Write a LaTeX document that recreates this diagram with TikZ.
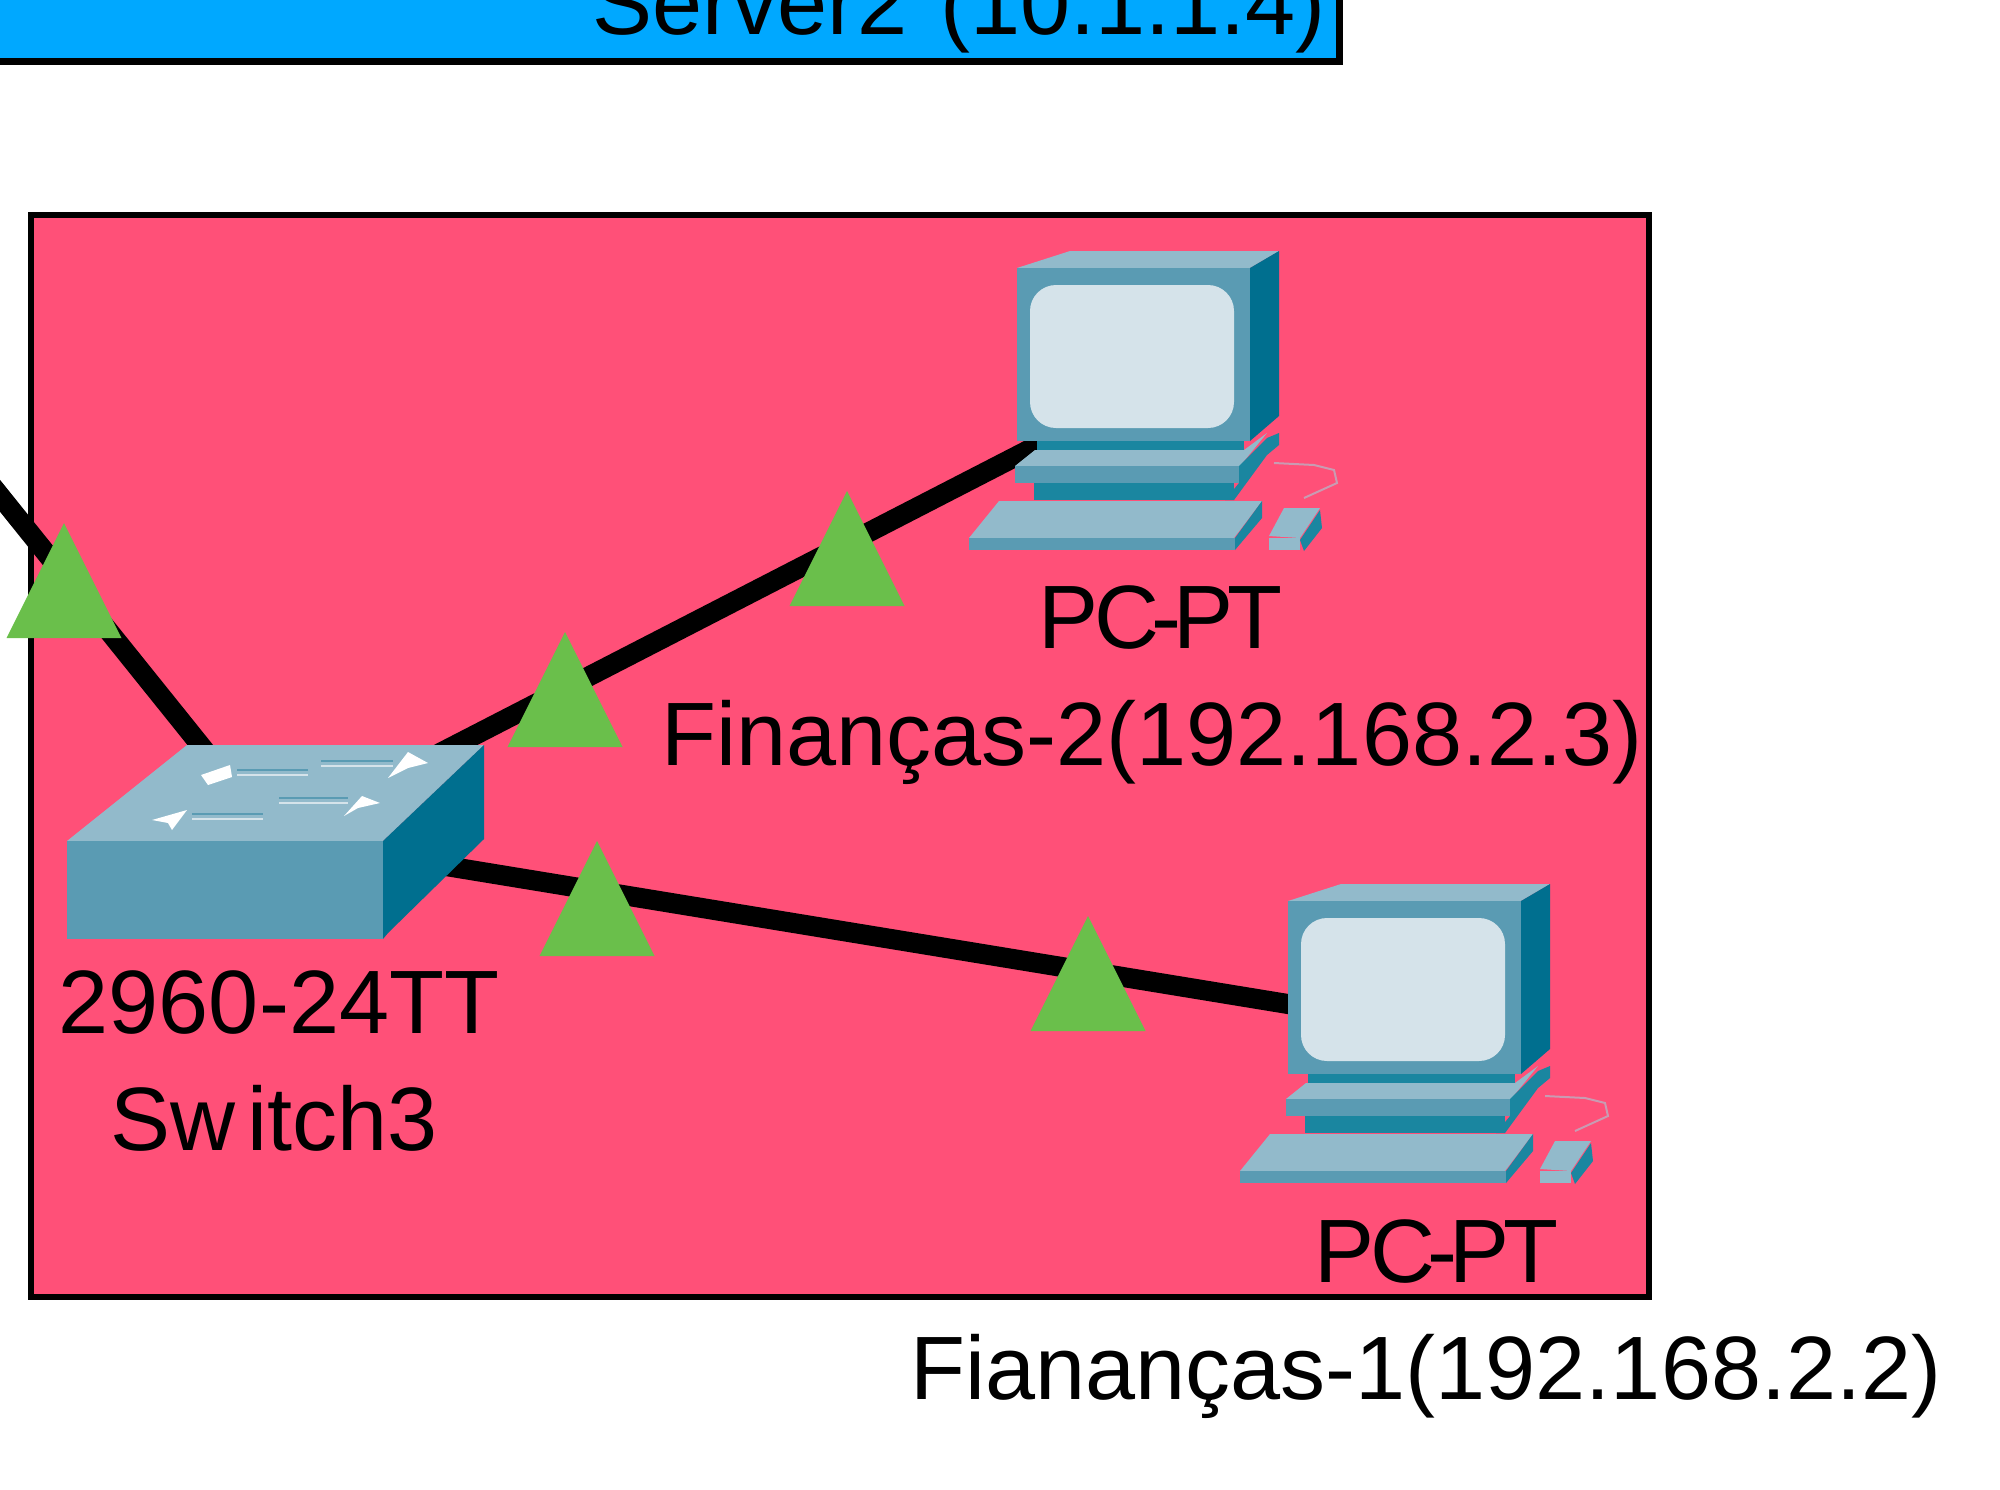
\documentclass[tikz,border=0pt]{standalone}
\usepackage{fontspec}
\setmainfont{Liberation Sans}
\usepackage{tikz}

\definecolor{zonepink}{HTML}{FF5078}
\definecolor{zoneblue}{HTML}{00A8FF}
\definecolor{linkgreen}{HTML}{6ABF4B}
\definecolor{icontop}{HTML}{92BACB}
\definecolor{iconfront}{HTML}{5A9BB3}
\definecolor{iconside}{HTML}{006F8F}
\definecolor{iconmid}{HTML}{1A86A0}
\definecolor{iconscreen}{HTML}{D5E3EA}
\definecolor{iconcable}{HTML}{C99BB2}

\newcommand{\pcpt}{P\kern-2pt C\kern-4pt-\kern-4pt P\kern-3pt T}

\tikzset{
	linkup/.pic={\fill[linkgreen] (0,0) -- (-57.5,115) -- (57.5,115) -- cycle;},
	pcicon/.pic={
		\fill[icontop] (0,0) -- (53,-17) -- (262,-17) -- (233,0) -- cycle;
		\fill[iconfront] (0,0) rectangle (233,173);
		\fill[iconside] (233,0) -- (262,-17) -- (262,148) -- (233,173) -- cycle;
		\fill[iconscreen, rounded corners=13] (13,17) rectangle (217,160);
		\fill[iconmid] (17,215) rectangle (217,232);
		\fill[iconmid] (20,173) rectangle (227,184);
		\fill[icontop] (-2,198) -- (18,182) -- (227,182) -- (250,165) -- (223,198) -- cycle;
		\fill[iconfront] (-2,198) rectangle (222,215);
		\fill[iconmid] (222,198) -- (250,170) -- (262,165) -- (262,177) -- (250,187) -- (217,232) -- (208,232) -- (222,215) -- cycle;
		\fill[icontop] (-48,270) -- (-18,233) -- (245,233) -- (217,270) -- cycle;
		\fill[iconfront] (-48,270) rectangle (218,282);
		\fill[iconmid] (218,270) -- (245,233) -- (245,250) -- (218,282) -- cycle;
		\draw[iconcable, line width=1pt] (257,195) -- (297,197) -- (317,202) -- (320,215) -- (287,230);
		\fill[icontop] (252,268) -- (267,240) -- (303,240) -- (283,270) -- cycle;
		\fill[icontop] (252,270) rectangle (283,282);
		\fill[iconmid] (283,272) -- (303,242) -- (305,260) -- (287,283) -- cycle;
	}
}

\begin{document}
\begin{tikzpicture}[x=0.5pt, y=-0.5pt,
	zone/.style={draw=black, line width=3pt},
	link/.style={draw=black, line width=10pt},
	label/.style={anchor=base, inner sep=0pt, font=\fontsize{45}{54}\selectfont},
	lighttrace/.style={draw=iconscreen, line width=1.2pt},
	darktrace/.style={draw=iconfront, line width=1.2pt}]
	
	\useasboundingbox (0,0) rectangle (2000,1489);
	\clip (0,0) rectangle (2000,1489);
	
	\draw[zone, fill=zoneblue, line width=3.5pt] (-20,-20) rectangle (1339,61);
	\draw[zone, fill=zonepink] (31,215) rectangle (1649,1297);
	
	\coordinate (uplink) at (-40,446);
	\coordinate (sw3) at (275,838);
	\coordinate (fin2) at (1145,390);
	\coordinate (fin1) at (1416,1025);
	
	\path[link]
	(uplink) edge (sw3)
	(sw3) edge (fin2)
	(sw3) edge (fin1);
	
	\fill[icontop] (67,841) -- (187,745) -- (484,745) -- (383,841) -- cycle;
	\fill[iconfront] (67,841) rectangle (383,939);
	\fill[iconside] (383,841) -- (484,745) -- (484,839) -- (388,933) -- (383,939) -- cycle;
	\foreach \xa/\xb/\ya in {237/308/770, 321/393/761, 279/348/798, 192/263/814} {
		\draw[darktrace] (\xa,\ya) -- (\xb,\ya);
		\draw[lighttrace] (\xa,\ya+5) -- (\xb,\ya+5);
	}
	\fill[white] (201,775) -- (230,765) -- (232,777) -- (208,785) -- cycle;
	\fill[white] (388,778) -- (408,752) -- (428,763) -- (408,768) -- cycle;
	\fill[white] (344,816) -- (362,796) -- (380,803) -- (358,808) -- cycle;
	\fill[white] (152,820) -- (187,810) -- (172,830) -- (168,823) -- cycle;
	
	\pic at (1017,268) {pcicon};
	\pic at (1288,901) {pcicon};
	
	\pic at (64,523) {linkup};
	\pic at (565,632) {linkup};
	\pic at (597,841) {linkup};
	\pic at (847,491) {linkup};
	\pic at (1088,916) {linkup};
	
	\node[label] (server2) at (959,34) {Server2\kern4pt{} (10.1.1.4)};
	\node[label] (model3) at (279,1033) {2960-24TT};
	\node[label] (name3) at (274,1150) {Sw\kern6pt itch3};
	\node[label] (model2) at (1160,648) {\pcpt};
	\node[label] (name2) at (1152,765) {Finanças-2(192.168.2.3)};
	\node[label] (model1) at (1436,1282) {\pcpt};
	\node[label] (name1) at (1426,1399) {Fianan\c{c}as-1(192.168.2.2)};
	
\end{tikzpicture}
\end{document}
